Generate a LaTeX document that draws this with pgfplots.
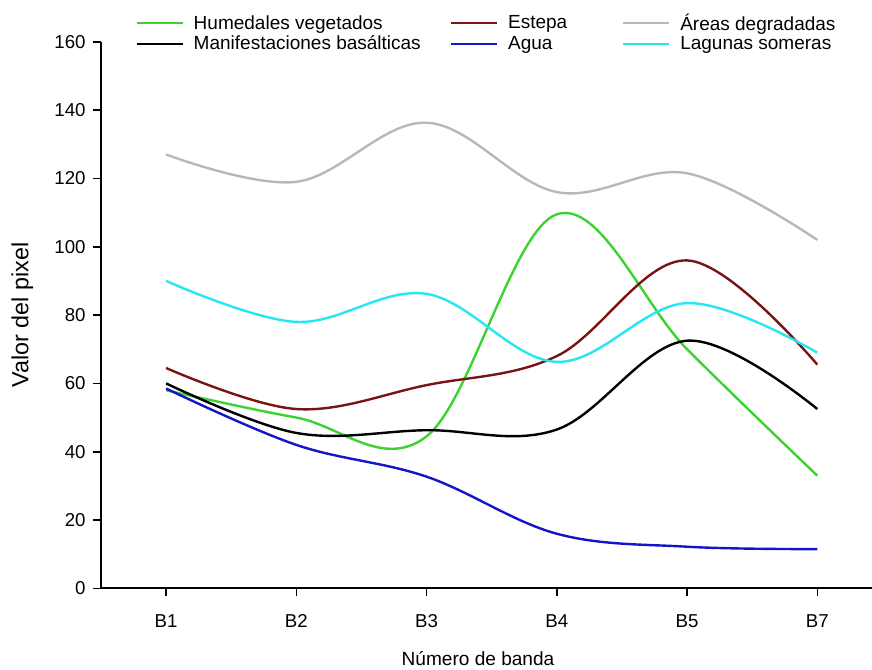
\documentclass[border=0pt]{standalone}
\usepackage{fontspec}
\setmainfont{Liberation Sans}
\usepackage{pgfplots}
\pgfplotsset{compat=1.18}
\definecolor{chum}{RGB}{60,210,50}
\definecolor{cest}{RGB}{120,20,20}
\definecolor{care}{RGB}{178,188,178}
\definecolor{cagu}{RGB}{20,20,200}
\definecolor{clag}{RGB}{40,230,240}
\begin{document}
\begin{tikzpicture}
\begin{axis}[
  scale only axis,
  width=578.25pt, height=410pt,
  xmin=-0.5, xmax=5.42,
  ymin=0, ymax=160,
  xtick={0,1,2,3,4,5},
  xticklabels={B1,B2,B3,B4,B5,B7},
  ytick={0,20,40,60,80,100,120,140,160},
  axis x line*=bottom, axis y line*=left,
  axis line style={-, line width=1.5pt, black},
  tick style={line width=1.2pt, black},
  tick align=outside,
  major tick length=6pt,
  /pgf/number format/assume math mode=true,
  ticklabel style={font=\fontsize{14}{16}\selectfont},
  yticklabel style={xshift=-2pt},
  xticklabel style={yshift=-10pt},
  xlabel={Número de banda},
  ylabel={Valor del pixel},
  xlabel style={at={(axis description cs:0.489,-0.128)}, anchor=center, font=\fontsize{14.3}{17}\selectfont},
  ylabel style={at={(axis description cs:-0.102,0.5)}, anchor=center, font=\fontsize{17.5}{20}\selectfont},
  legend columns=3,
  legend style={at={(axis description cs:0.039,1.056)}, anchor=north west, draw=none, fill=none,
    column sep=0pt, row sep=2.5pt, font=\fontsize{14.25}{16}\selectfont,
    nodes={inner sep=0pt}},
  legend cell align=left,
  legend image code/.code={\draw[#1, line width=1.8pt] (0pt,0pt) -- (34.5pt,0pt);},
  every axis plot/.append style={line width=1.8pt, smooth, tension=0.6, no markers},
]
\addplot[chum] coordinates {(0,58) (1,50) (2,44.5) (3,109.5) (4,70) (5,33)};
\addlegendentry{\makebox[199.5pt][l]{\hspace{7.5pt}Humedales vegetados}}
\addplot[cest] coordinates {(0,64.5) (1,52.5) (2,59.5) (3,68) (4,96) (5,65.5)};
\addlegendentry{\makebox[92.8pt][l]{\hspace{7.5pt}Estepa}}
\addplot[care] coordinates {(0,127) (1,119) (2,136.3) (3,116) (4,121.5) (5,102)};
\addlegendentry{\hspace{7.5pt}Áreas degradadas}
\addplot[black] coordinates {(0,60) (1,45.5) (2,46.3) (3,46.5) (4,72.5) (5,52.5)};
\addlegendentry{\makebox[199.5pt][l]{\hspace{7.5pt}Manifestaciones basálticas}}
\addplot[cagu] coordinates {(0,58.5) (1,42) (2,32.7) (3,16) (4,12.2) (5,11.5)};
\addlegendentry{\makebox[92.8pt][l]{\hspace{7.5pt}Agua}}
\addplot[clag] coordinates {(0,90) (1,78) (2,86.2) (3,66.3) (4,83.5) (5,69)};
\addlegendentry{\hspace{7.5pt}Lagunas someras}
\coordinate (ll) at (rel axis cs:0,0);
\coordinate (ur) at (rel axis cs:1,1);
\end{axis}
\pgfresetboundingbox
\path[use as bounding box] ([xshift=-75.75pt,yshift=-60.5pt]ll) rectangle ([yshift=31.3pt]ur);
\end{tikzpicture}
\end{document}
